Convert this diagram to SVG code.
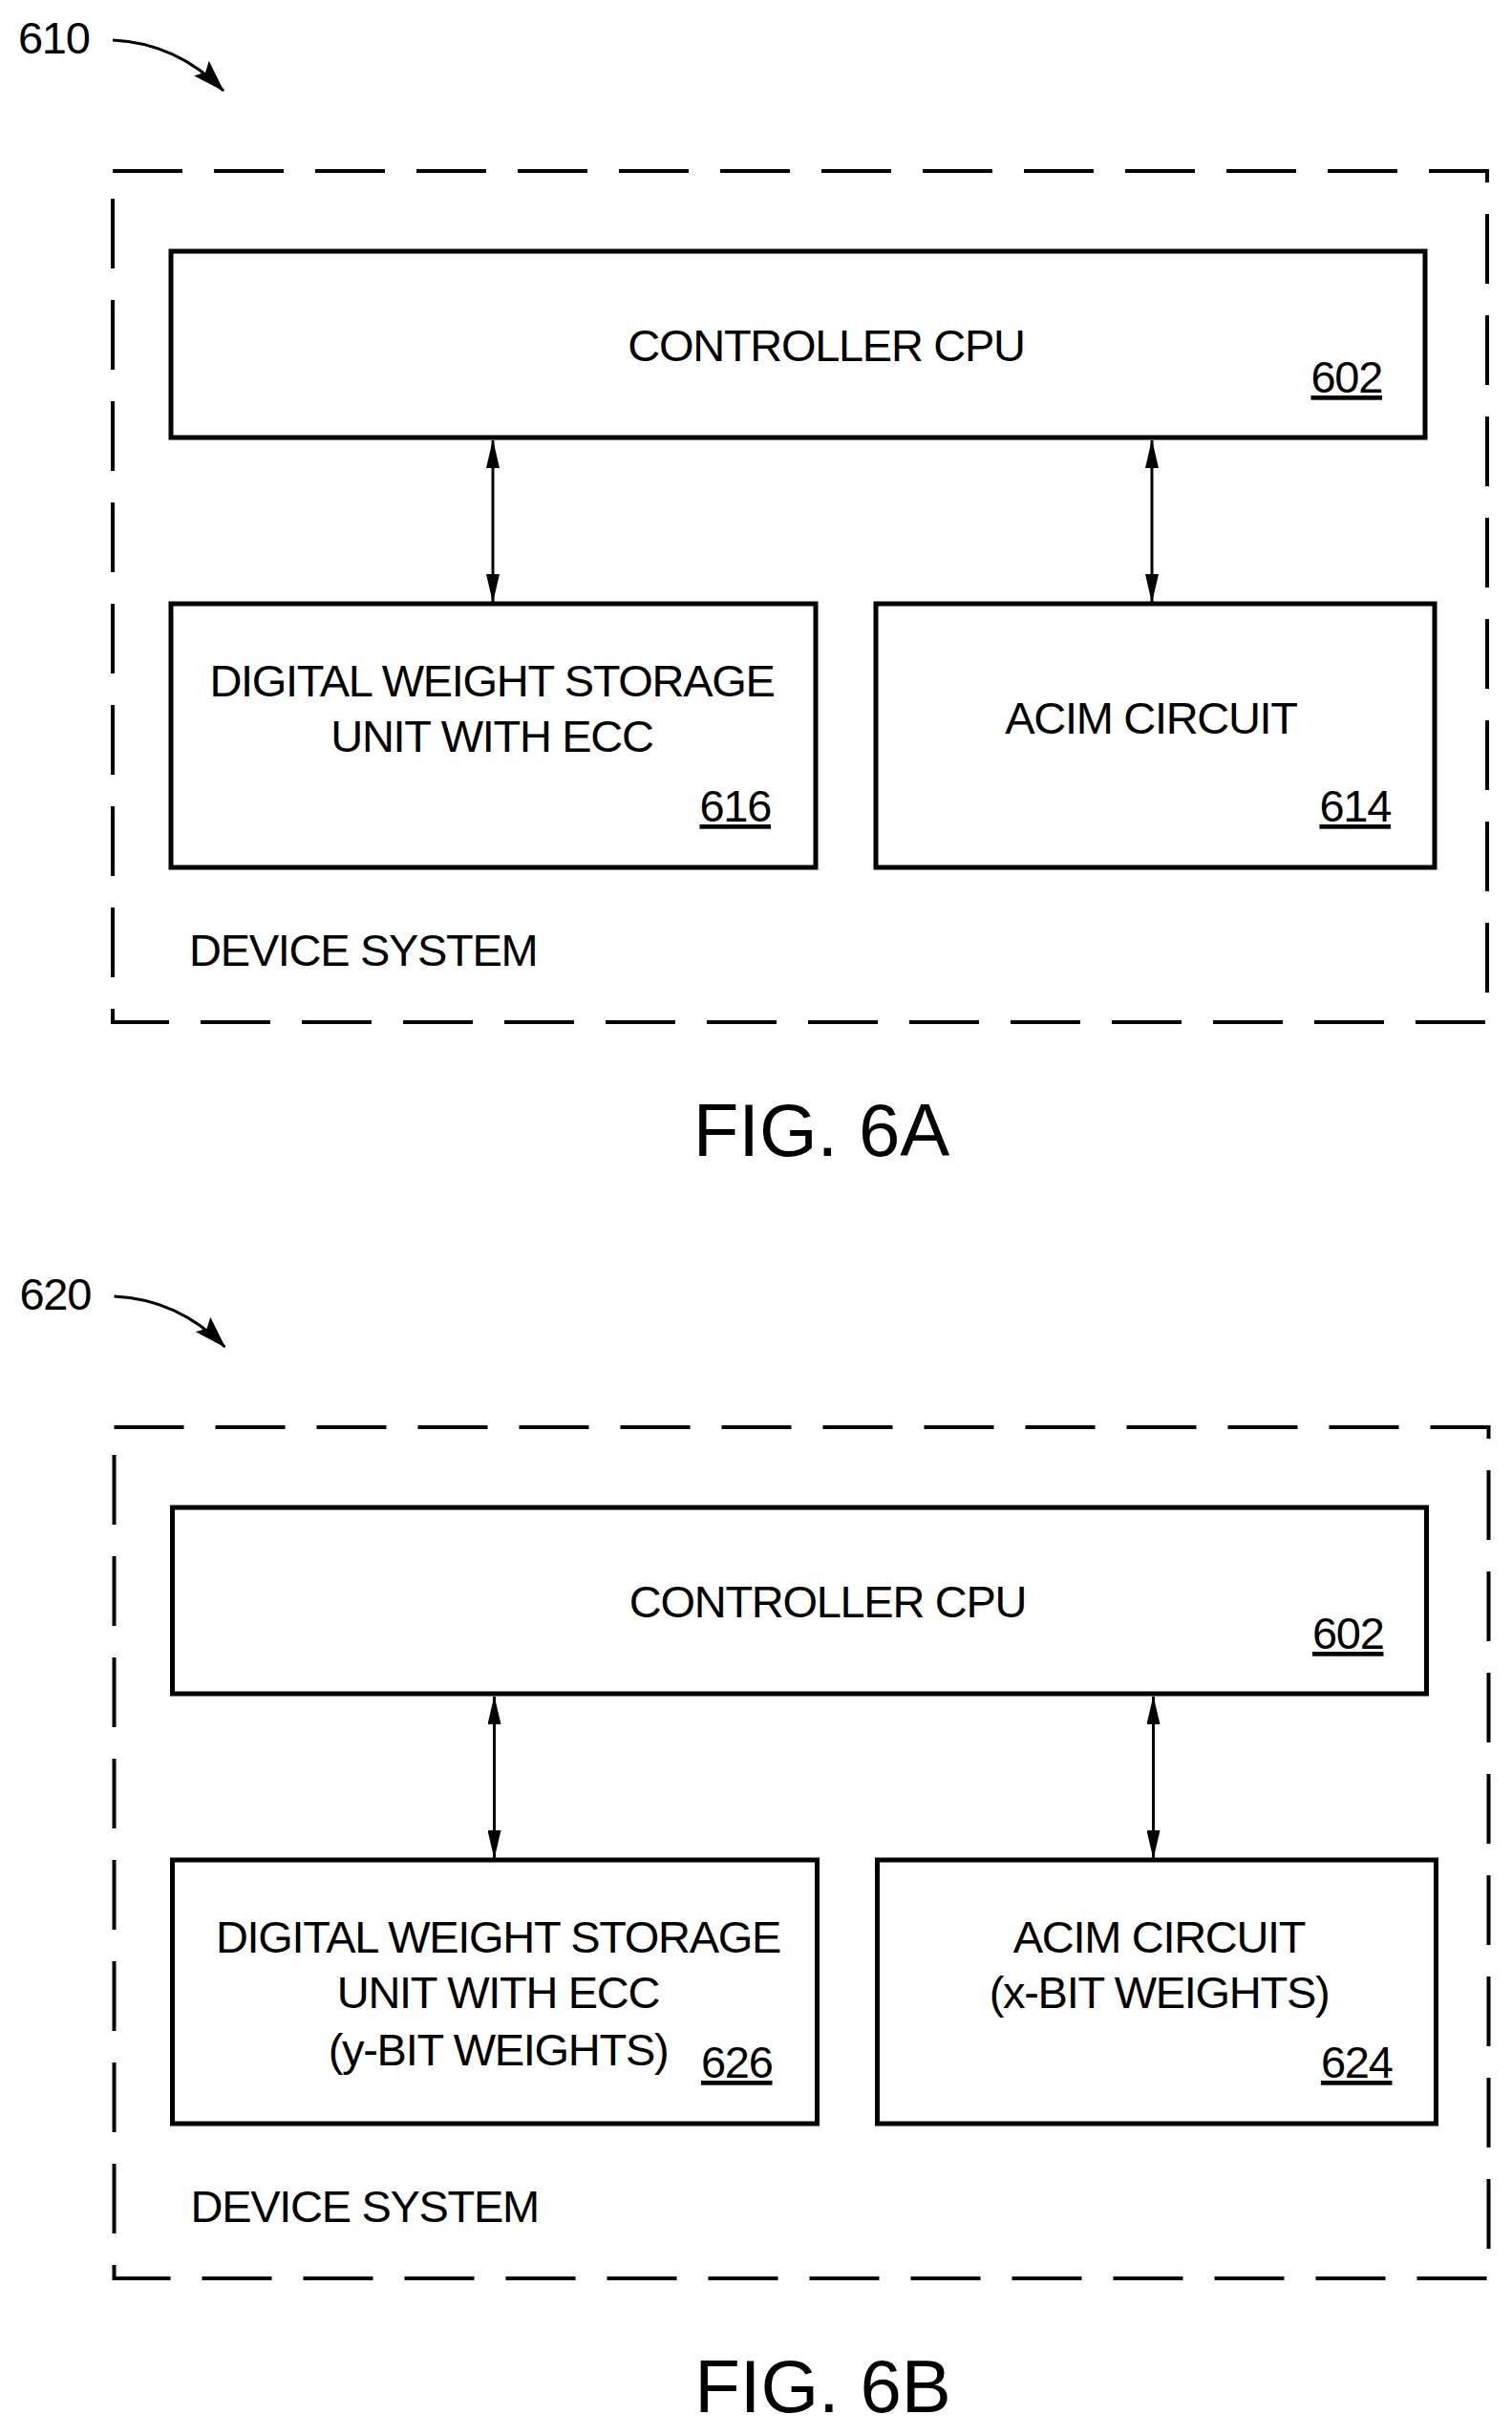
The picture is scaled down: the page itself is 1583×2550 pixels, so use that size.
<svg xmlns="http://www.w3.org/2000/svg" width="1583" height="2550" viewBox="0 0 1583 2550">
<style>
text{font-family:"Liberation Sans",Arial,sans-serif;fill:#000}
.t{font-size:47px;letter-spacing:-1.3px}
.c{text-anchor:middle}
.r{text-anchor:end;text-decoration:underline}
.fig{font-size:78px;text-anchor:middle}
.box{fill:#fff;stroke:#000;stroke-width:5}
.dash{fill:none;stroke:#000;stroke-width:4;stroke-dasharray:73 33}
.ln{stroke:#000;stroke-width:3;fill:none}
</style>
<defs>
<marker id="ah" markerWidth="30" markerHeight="14" refX="29" refY="7" orient="auto-start-reverse" markerUnits="userSpaceOnUse"><path d="M0,0 L30,7 L0,14 Z" fill="#000"/></marker>
<marker id="ah2" markerWidth="34" markerHeight="22" refX="33" refY="11" orient="auto" markerUnits="userSpaceOnUse"><path d="M0,0 L34,11 L0,22 L6,11 Z" fill="#000"/></marker>
</defs>
<g id="fig6a">
<g id="ref610"><text class="t" x="19" y="56">610</text><path class="ln" d="M118,42 Q185,45 234,95" stroke-width="5" marker-end="url(#ah2)"/></g>
<g id="system610"><rect class="dash" x="118" y="179" width="1439" height="891"/><text class="t" x="198" y="1011">DEVICE SYSTEM</text></g>
<g id="cpu602a"><rect class="box" x="179" y="263" width="1313" height="195"/><text class="t c" x="865" y="378">CONTROLLER CPU</text><text class="t r" x="1447" y="411">602</text></g>
<g id="dwsu616"><rect class="box" x="179" y="632" width="675" height="276"/><text class="t c" x="515" y="729">DIGITAL WEIGHT STORAGE</text><text class="t c" x="515" y="787">UNIT WITH ECC</text><text class="t r" x="807" y="860">616</text></g>
<g id="acim614"><rect class="box" x="917" y="632" width="585" height="276"/><text class="t c" x="1205" y="768">ACIM CIRCUIT</text><text class="t r" x="1456" y="860">614</text></g>
<g id="conn6a"><line class="ln" x1="516" y1="461" x2="516" y2="630" marker-start="url(#ah)" marker-end="url(#ah)"/><line class="ln" x1="1206" y1="461" x2="1206" y2="630" marker-start="url(#ah)" marker-end="url(#ah)"/></g>
<text class="fig" x="860" y="1210">FIG. 6A</text>
</g>
<g id="fig6b" transform="translate(1.5,1315)">
<g id="ref620"><text class="t" x="19" y="56">620</text><path class="ln" d="M118,42 Q185,45 234,95" stroke-width="5" marker-end="url(#ah2)"/></g>
<g id="system620"><rect class="dash" x="118" y="179" width="1439" height="891"/><text class="t" x="198" y="1011">DEVICE SYSTEM</text></g>
<g id="cpu602b"><rect class="box" x="179" y="263" width="1313" height="195"/><text class="t c" x="865" y="378">CONTROLLER CPU</text><text class="t r" x="1447" y="411">602</text></g>
<g id="dwsu626"><rect class="box" x="179" y="632" width="675" height="276"/><text class="t c" x="520" y="729">DIGITAL WEIGHT STORAGE</text><text class="t c" x="520" y="787">UNIT WITH ECC</text><text class="t c" x="520" y="847">(y-BIT WEIGHTS)</text><text class="t r" x="807" y="860">626</text></g>
<g id="acim624"><rect class="box" x="917" y="632" width="585" height="276"/><text class="t c" x="1212" y="729">ACIM CIRCUIT</text><text class="t c" x="1212" y="787">(x-BIT WEIGHTS)</text><text class="t r" x="1456" y="860">624</text></g>
<g id="conn6b"><line class="ln" x1="516" y1="461" x2="516" y2="630" marker-start="url(#ah)" marker-end="url(#ah)"/><line class="ln" x1="1206" y1="461" x2="1206" y2="630" marker-start="url(#ah)" marker-end="url(#ah)"/></g>
<text class="fig" x="860" y="1210">FIG. 6B</text>
</g>
</svg>
